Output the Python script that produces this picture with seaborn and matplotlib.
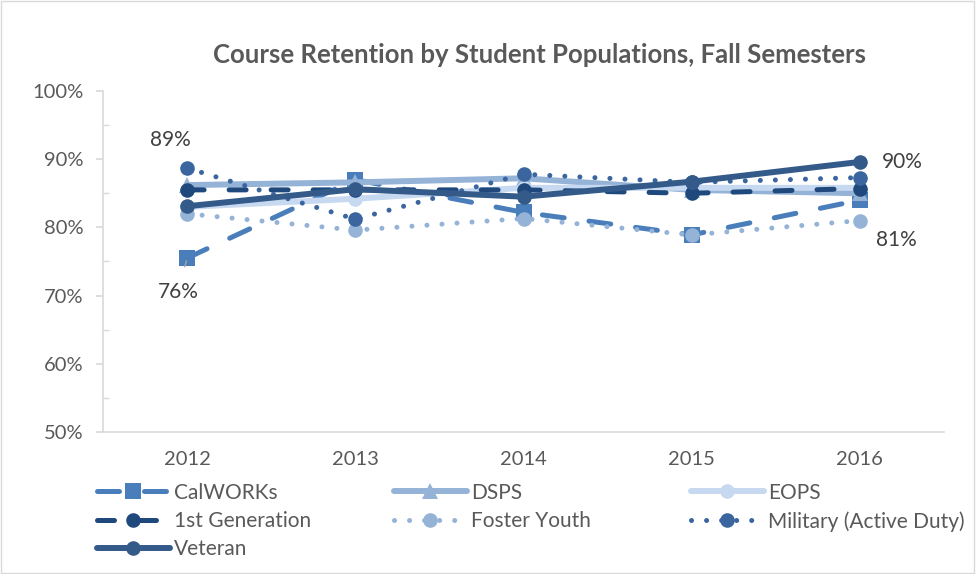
import matplotlib
matplotlib.use('Agg')
import matplotlib.pyplot as plt
import seaborn as sns
import pandas as pd
import numpy as np
from matplotlib.patches import Rectangle
from matplotlib.ticker import MultipleLocator

years = ['2012', '2013', '2014', '2015', '2016']
calworks = [75.5, 87.0, 82.2, 78.9, 84.0]
dsps = [86.2, 86.6, 87.2, 85.5, 85.0]
eops = [83.0, 84.2, 85.8, 85.8, 85.8]
first_gen = [85.5, 85.5, 85.5, 85.0, 85.7]
foster = [82.0, 79.6, 81.3, 78.9, 81.0]
military = [88.7, 81.2, 87.8, 86.6, 87.3]
veteran = [83.1, 85.6, 84.5, 86.7, 89.6]

# name, values, colour, marker, marker size, line width, dash pattern
series = [
    ('CalWORKs', calworks, '#4a7ebb', 's', 12, 3.6, (0, (4.4, 5.0))),
    ('DSPS', dsps, '#95b3d7', '^', 12, 4.3, '-'),
    ('EOPS', eops, '#c6d9f1', 'o', 10.5, 4.3, '-'),
    ('1st Generation', first_gen, '#1f497d', 'o', 10.5, 3.6, (0, (3.4, 5.0))),
    ('Foster Youth', foster, '#95b3d7', 'o', 10.5, 3.6, (0, (0.01, 3.0))),
    ('Military (Active Duty)', military, '#3a659e', 'o', 10.5, 3.6, (0, (0.01, 3.0))),
    ('Veteran', veteran, '#345a8a', 'o', 10.5, 4.3, '-'),
]

sns.set_theme(style='white')
plt.rcParams['font.family'] = ['Lato', 'DejaVu Sans']
grey = '#595959'
dark = '#404040'

fig = plt.figure(figsize=(9.76, 5.74), dpi=100)
ax = fig.add_axes([103 / 976, 0.2474, 841 / 976, 0.5941])
x = np.arange(len(years))

handles = {}
for name, vals, color, marker, ms, lw, ls in series:
    df = pd.DataFrame({'year': x, 'value': vals})
    sns.lineplot(data=df, x='year', y='value', ax=ax, color=color, marker=marker,
                 linestyle=ls, linewidth=lw, markersize=ms, markeredgewidth=0,
                 dash_capstyle='round', solid_capstyle='round')
    handles[name] = ax.lines[-1]

ax.set_xlim(-0.5, len(years) - 0.5)
ax.set_ylim(50, 100)
ax.set_xticks(x)
ax.set_xticklabels(years)
ax.set_yticks([50, 60, 70, 80, 90, 100])
ax.set_yticklabels([f'{v}%' for v in [50, 60, 70, 80, 90, 100]])
ax.yaxis.set_minor_locator(MultipleLocator(5))
ax.set_xlabel('')
ax.set_ylabel('')
ax.tick_params(axis='x', labelsize=14.5, colors=grey, length=0, pad=14)
ax.tick_params(axis='y', which='major', labelsize=14.5, labelcolor=grey, length=5,
               color='#d9d9d9', direction='out', left=True, pad=9)
ax.tick_params(axis='y', which='minor', length=4.5, color='#d9d9d9', direction='in', left=True)
for s in ['top', 'right']:
    ax.spines[s].set_visible(False)
for s in ['left', 'bottom']:
    ax.spines[s].set_color('#d9d9d9')
    ax.spines[s].set_linewidth(1.2)

# data labels
ax.annotate(f'{military[0]:.0f}%', (0, military[0]), xytext=(-12, 20), textcoords='offset points',
            ha='center', va='center', fontsize=15, color=dark)
ax.annotate(f'{calworks[0]:.0f}%', (0, calworks[0]), xytext=(-6.5, -24.5), textcoords='offset points',
            ha='center', va='center', fontsize=15, color=dark,
            arrowprops=dict(arrowstyle='-', color='#a6a6a6', lw=1, shrinkA=9, shrinkB=2))
ax.annotate(f'{veteran[4]:.0f}%', (4, veteran[4]), xytext=(16, 0), textcoords='offset points',
            ha='left', va='center', fontsize=15, color=dark)
ax.annotate(f'{foster[4]:.0f}%', (4, foster[4]), xytext=(26, -14), textcoords='offset points',
            ha='center', va='center', fontsize=15, color=dark)

fig.suptitle('Course Retention by Student Populations, Fall Semesters', x=0.553, y=0.925,
             fontsize=18.5, fontweight='bold', color=grey)

# legend laid out row by row in three columns
columns = [
    (97, ['CalWORKs', '1st Generation', 'Veteran']),
    (394, ['DSPS', 'Foster Youth']),
    (691, ['EOPS', 'Military (Active Duty)']),
]
for left_px, names in columns:
    leg = fig.legend([handles[n] for n in names], names, loc='upper left',
                     bbox_to_anchor=(left_px / 976, 0.1592), frameon=False,
                     fontsize=15, handlelength=3.5, handletextpad=0.2,
                     labelspacing=0.4, borderpad=0, borderaxespad=0, labelcolor=grey)

fig.patches.append(Rectangle((0.001, 0.001), 0.997, 0.997, transform=fig.transFigure,
                             fill=False, edgecolor='#d9d9d9', linewidth=1))

fig.savefig('out.png', dpi=100)
